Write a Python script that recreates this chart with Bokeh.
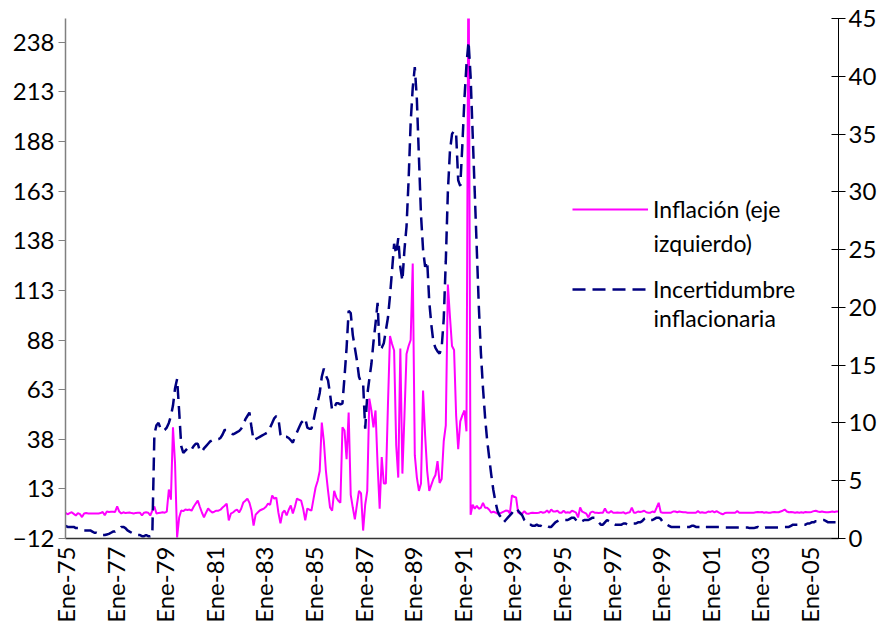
import numpy as np
from bokeh.plotting import figure
from bokeh.models import Range1d, LinearAxis, FixedTicker, Legend, LegendItem, Label
from bokeh.embed import file_html
from bokeh.resources import INLINE

# Monthly inflation (left axis), Jan-1975 .. Mar-2006
inflacion = (
    [1.0, 0.2, 0.8, 1.2, 0.4, -0.4, 0.8, 0.3, -1.2, 0.6, 0.8, 0.6] +          # 1975
    [0.6, 0.6, 0.6, 0.6, 0.6, 0.8, 1.4, -0.3, 1.6, 1.4, 1.5, 1.5] +           # 1976
    [1.4, 4.2, 1.6, 0.6, 1.2, 0.8, 1.0, 1.1, 0.8, 0.6, 0.9, 1.0] +            # 1977
    [1.0, -0.4, 1.0, 1.2, 1.0, -0.4, 2.0, 4.1, 0.6, 0.8, 1.0, 1.2] +          # 1978
    [1.0, 1.5, 12.7, 7.6, 44.0, 25.8, -11.5, -1.4, 2.1, 1.8, 2.6, 2.4] +      # 1979
    [2.6, 2.0, 4.0, 5.6, 7.1, 4.0, 1.1, -1.4, 1.0, 3.1, 2.0, 1.1] +           # 1980
    [1.5, 2.0, 2.0, 2.5, 3.6, 4.5, 5.6, -2.9, 0.5, 1.1, 2.0, 2.6] +           # 1981
    [1.1, 3.0, 6.1, 7.0, 8.1, 6.0, 2.1, -5.5, 0.0, 1.1, 2.1, 2.6] +           # 1982
    [3.1, 4.0, 5.6, 5.0, 9.7, 8.1, 8.6, 1.1, -4.4, 1.0, 2.1, -0.4] +          # 1983
    [2.5, 4.6, 0.6, 4.0, 8.1, 7.5, 7.1, 3.0, -2.9, 3.1, 2.5, 2.1] +           # 1984
    [8.0, 13.7, 17.0, 22.0, 46.4, 37.0, 22.0, 12.2, 3.6, 2.0, 12.0, 8.7] +    # 1985
    [7.0, 6.0, 44.0, 42.4, 28.0, 51.5, 10.0, 3.6, -2.4, 5.0, 12.0, 10.7] +    # 1986
    [-8.0, 5.0, 12.0, 58.5, 52.5, 44.0, 52.5, 25.0, 3.0, 29.0, 15.7, 15.7] +  # 1987
    [55.0, 90.0, 86.0, 82.7, 35.0, 18.7, 83.7, 20.7, 50.0, 81.0, 85.0, 88.0] +  # 1988
    [126.5, 30.0, 18.7, 12.0, 15.7, 62.5, 40.0, 22.0, 12.0, 15.0, 18.0, 20.0] +  # 1989
    [27.0, 16.0, 18.0, 37.0, 45.0, 116.0, 100.0, 85.0, 83.0, 50.0, 33.0, 47.0] +  # 1990
    [50.0, 52.5, 42.0, 300.0, 0.0, 5.0, 3.0, 4.5, 3.0, 3.5, 6.0, 3.5] +       # 1991
    [3.5, 2.5, 1.0, 1.5, 1.1, 0.5, 0.5, 1.0, 1.5, 2.1, 2.0, 0.6] +            # 1992
    [9.7, 9.0, 8.7, 1.1, 0.5, 0.6, 1.8, 0.6, 0.5, 0.8, 1.0, 0.8] +            # 1993
    [0.8, 1.0, 1.4, 1.0, 1.2, 2.1, 1.0, 2.6, 1.6, 1.6, 2.0, 1.0] +            # 1994
    [1.0, 2.0, 1.0, 1.2, 1.0, 2.0, 1.6, 1.0, -1.4, 3.6, 1.5, 1.0] +           # 1995
    [0.5, -1.4, 1.0, 1.6, 1.0, 1.0, 0.8, 1.0, 1.0, 3.1, 1.2, 1.0] +           # 1996
    [1.8, 1.0, 1.0, 1.1, 1.0, 1.0, 1.2, 0.5, 1.0, 1.2, 3.6, 1.0] +            # 1997
    [1.0, 1.6, 1.4, 1.6, 2.0, 1.2, 1.0, 1.0, 1.6, 1.2, 3.5, 6.0] +            # 1998
    [1.2, 1.0, 1.0, 1.0, 1.0, 1.0, 1.6, 1.6, 1.2, 1.6, 1.4, 1.2] +            # 1999
    [1.2, 1.0, 1.0, 1.0, 1.0, 1.0, 1.8, 1.0, 1.2, 1.0, 1.0, 1.6] +            # 2000
    [1.4, 1.8, 1.2, 1.8, 1.2, 0.6, 0.2, 0.8, 1.0, 1.0, 1.0, 1.0] +            # 2001
    [1.0, 1.8, 1.0, 1.0, 1.0, 1.0, 1.0, 1.0, 1.0, 1.0, 1.2, 1.4] +            # 2002
    [1.2, 1.4, 1.0, 1.2, 1.0, 1.0, 1.2, 1.4, 1.2, 1.2, 1.6, 2.0] +            # 2003
    [2.6, 1.6, 1.2, 1.4, 1.2, 1.0, 1.2, 1.0, 1.2, 1.0, 1.4, 1.2] +            # 2004
    [1.2, 1.4, 1.8, 2.0, 1.6, 1.4, 1.6, 1.4, 1.2, 1.2, 1.4, 1.6] +            # 2005
    [1.4, 1.6, 1.6]                                                           # 2006
)

# Monthly inflation uncertainty (right axis)
incertidumbre = (
    [1.1, 1.0, 1.0, 1.0, 1.0, 0.9, 0.9, 0.8, 0.7, 0.7, 0.7, 0.7] +            # 1975
    [0.7, 0.6, 0.5, 0.5, 0.4, 0.4, 0.3, 0.3, 0.35, 0.4, 0.5, 0.6] +           # 1976
    [0.6, 0.7, 0.8, 1.0, 1.0, 0.9, 0.7, 0.6, 0.5, 0.4, 0.3, 0.3] +            # 1977
    [0.3, 0.2, 0.2, 0.3, 0.2, 0.2, 0.3, 9.0, 9.8, 10.0, 9.5, 9.3] +           # 1978
    [9.4, 9.6, 10.0, 10.6, 11.5, 13.0, 13.8, 11.0, 8.0, 7.4, 7.6, 7.8] +      # 1979
    [7.6, 7.7, 8.0, 8.2, 8.2, 7.6, 7.5, 7.8, 8.0, 8.2, 8.4, 8.5] +            # 1980
    [8.5, 8.6, 8.6, 8.7, 9.0, 9.4, 9.4, 9.3, 9.2, 9.0, 9.1, 9.2] +            # 1981
    [9.3, 9.5, 9.8, 10.3, 10.6, 10.9, 9.6, 8.5, 8.6, 8.7, 8.8, 8.9] +         # 1982
    [9.0, 9.1, 9.2, 9.6, 10.0, 10.4, 10.6, 10.4, 9.0, 8.7, 8.8, 8.8] +        # 1983
    [8.7, 8.5, 8.3, 8.8, 9.2, 9.6, 10.0, 10.2, 10.4, 9.6, 9.5, 9.5] +         # 1984
    [10.2, 11.1, 11.8, 12.6, 14.0, 14.7, 14.1, 13.7, 12.5, 11.1, 11.3, 11.7] +  # 1985
    [11.7, 11.6, 11.7, 14.0, 16.5, 19.7, 19.5, 17.6, 16.5, 15.4, 14.0, 13.5] +  # 1986
    [13.4, 9.5, 12.4, 13.8, 15.1, 17.0, 18.6, 20.4, 16.3, 16.5, 16.9, 18.0] +   # 1987
    [19.1, 21.0, 23.2, 25.5, 24.6, 26.0, 23.5, 22.3, 25.0, 27.0, 31.0, 36.0] +  # 1988
    [39.0, 40.8, 38.0, 33.0, 28.0, 25.0, 23.5, 24.0, 20.5, 18.5, 17.0, 16.5] +  # 1989
    [16.2, 16.0, 16.5, 19.0, 24.0, 30.0, 33.5, 35.0, 35.3, 35.0, 31.0, 30.5] +  # 1990
    [34.0, 38.0, 41.0, 43.0, 40.0, 35.0, 30.0, 25.0, 20.0, 16.0, 13.0, 10.5] +  # 1991
    [8.5, 7.0, 5.5, 4.2, 3.2, 2.4, 2.0, 1.8, 1.4, 1.6, 1.8, 2.0] +            # 1992
    [2.2, 2.5, 2.6, 2.4, 2.2, 2.0, 1.6, 1.4, 1.2, 1.2, 1.1, 1.1] +            # 1993
    [1.2, 1.1, 1.1, 1.0, 1.0, 1.1, 1.0, 1.0, 1.2, 1.4, 1.5, 1.6] +            # 1994
    [1.6, 1.6, 1.6, 1.6, 1.7, 1.8, 1.8, 1.6, 1.4, 1.5, 1.5, 1.6] +            # 1995
    [1.6, 1.6, 1.7, 1.8, 1.8, 1.6, 1.4, 1.2, 1.2, 1.4, 1.6, 1.5] +            # 1996
    [1.3, 1.3, 1.2, 1.2, 1.2, 1.2, 1.3, 1.3, 1.2, 1.3, 1.3, 1.3] +            # 1997
    [1.3, 1.4, 1.4, 1.5, 1.7, 1.8, 1.7, 1.6, 1.6, 1.7, 1.8, 1.8] +            # 1998
    [1.7, 1.4, 1.3, 1.2, 1.1, 1.0, 1.0, 1.0, 1.0, 1.0, 1.0, 1.0] +            # 1999
    [1.0, 1.0, 1.0, 1.1, 1.1, 1.0, 1.0, 1.0, 1.1, 1.0, 1.0, 1.0] +            # 2000
    [1.0, 1.0, 1.0, 1.0, 1.0, 1.0, 1.0, 0.95, 0.95, 0.95, 0.95, 0.95] +       # 2001
    [0.95, 0.95, 0.95, 0.95, 0.95, 0.95, 0.95, 0.9, 0.9, 0.9, 0.95, 1.0] +    # 2002
    [0.9, 0.85, 0.9, 0.95, 0.95, 0.95, 0.95, 0.95, 0.95, 0.95, 0.95, 0.95] +  # 2003
    [1.0, 1.0, 1.0, 1.1, 1.2, 1.2, 1.2, 1.2, 1.2, 1.2, 1.2, 1.3] +            # 2004
    [1.3, 1.4, 1.4, 1.5, 1.5, 1.6, 1.6, 1.6, 1.5, 1.4, 1.4, 1.4] +            # 2005
    [1.4, 1.4, 1.5]                                                           # 2006
)

tick_labels = ["Ene-75", "Ene-77", "Ene-79", "Ene-81", "Ene-83", "Ene-85", "Ene-87",
               "Ene-89", "Ene-91", "Ene-93", "Ene-95", "Ene-97", "Ene-99", "Ene-01",
               "Ene-03", "Ene-05"]
left_ticks = [-12, 13, 38, 63, 88, 113, 138, 163, 188, 213, 238]
right_ticks = [0, 5, 10, 15, 20, 25, 30, 35, 40, 45]

FONT = "Lato"
TICK_FS = "24px"
LEG_FS = "23px"
n = len(inflacion)
months = list(range(n))
tick_pos = [24 * k for k in range(len(tick_labels))]

p = figure(width=887, height=630, output_backend="svg", toolbar_location=None,
           x_range=Range1d(0, n - 1), y_range=Range1d(-12, 250),
           min_border_left=65, min_border_right=49, min_border_top=18,
           min_border_bottom=92)
p.extra_y_ranges = {"right": Range1d(0, 45)}
p.outline_line_color = None
p.xgrid.visible = False
p.ygrid.visible = False
p.background_fill_color = "white"
p.border_fill_color = "white"

r_inf = p.line(months, inflacion, line_color="#FF00FF", line_width=2)
r_inc = p.line(months, incertidumbre, y_range_name="right", line_color="#000080",
               line_width=2.5, line_dash="13 7")

# x axis
xa = p.xaxis[0]
xa.ticker = FixedTicker(ticks=tick_pos)
xa.major_label_overrides = {pos: lab for pos, lab in zip(tick_pos, tick_labels)}
xa.major_label_orientation = np.pi / 2
xa.major_tick_in = 0
xa.major_tick_out = 0
xa.minor_tick_in = 0
xa.minor_tick_out = 0
xa.axis_line_color = "#333333"
xa.axis_line_width = 1.5
xa.major_label_standoff = 8
xa.major_label_text_font = FONT
xa.major_label_text_font_size = TICK_FS
xa.major_label_text_color = "black"

# left axis
ya = p.yaxis[0]
ya.ticker = FixedTicker(ticks=left_ticks, minor_ticks=[])
ya.major_tick_out = 7
ya.major_tick_in = 0
ya.axis_line_color = "#808080"
ya.major_tick_line_color = "#808080"
ya.axis_line_width = 1.5
ya.major_label_standoff = 4
ya.major_label_text_font = FONT
ya.major_label_text_font_size = TICK_FS
ya.major_label_text_color = "black"

# right axis
ra = LinearAxis(y_range_name="right", ticker=FixedTicker(ticks=right_ticks, minor_ticks=[]))
ra.major_tick_out = 7
ra.major_tick_in = 7
ra.axis_line_color = "black"
ra.major_tick_line_color = "black"
ra.major_label_standoff = 3
ra.major_label_text_font = FONT
ra.major_label_text_font_size = TICK_FS
ra.major_label_text_color = "black"
p.add_layout(ra, "right")

legend = Legend(items=[LegendItem(label="Inflación (eje", renderers=[r_inf]),
                       LegendItem(label="Incertidumbre", renderers=[r_inc])],
                location=(507, 234), glyph_width=76, glyph_height=30, label_height=30,
                spacing=50, padding=0, margin=0, border_line_color=None,
                background_fill_alpha=0, label_standoff=5,
                label_text_font=FONT, label_text_font_size=LEG_FS,
                label_text_color="black")
p.add_layout(legend)

for txt, yv in [("izquierdo)", 137.0), ("inflacionaria", 99.0)]:
    p.add_layout(Label(x=284.5, y=yv, text=txt, text_font=FONT,
                       text_font_size=LEG_FS, text_baseline="middle",
                       text_color="black"))

open("out.html", "w").write(file_html(p, INLINE))
